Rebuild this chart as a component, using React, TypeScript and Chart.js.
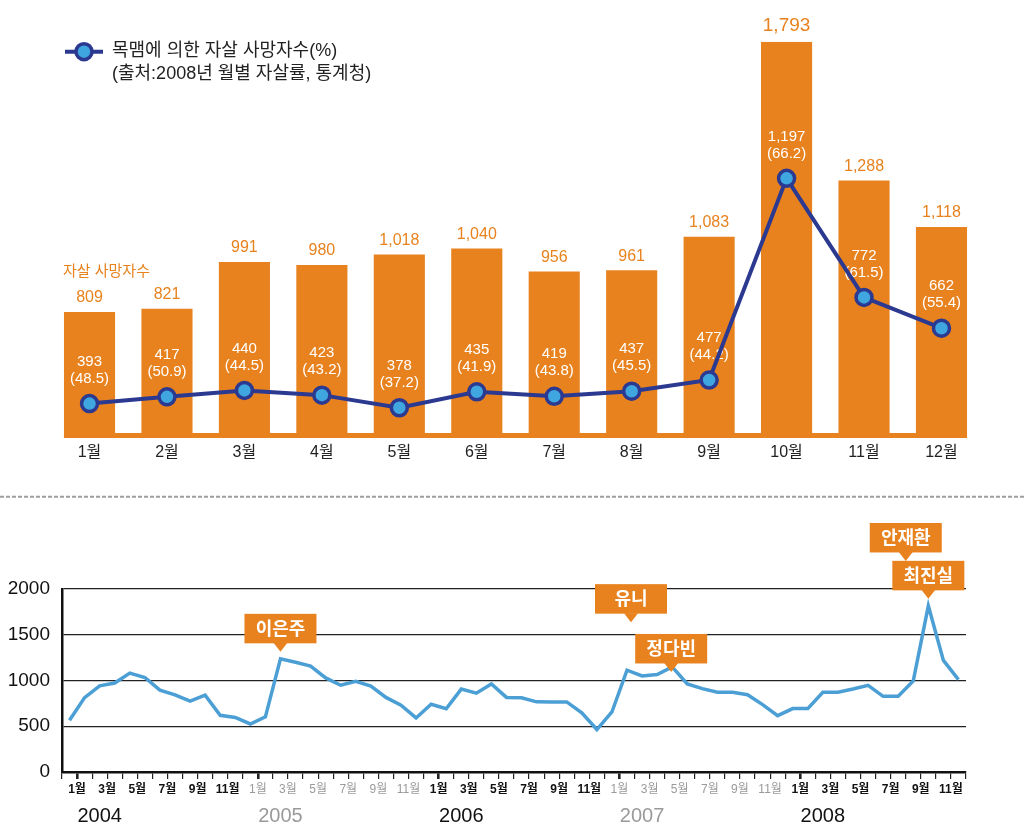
import React, { useEffect, useRef } from 'react';
import { Chart, registerables } from 'chart.js';

Chart.register(...registerables);

// ---------- DATA: top chart (2008 monthly) ----------
const months = ['1월', '2월', '3월', '4월', '5월', '6월', '7월', '8월', '9월', '10월', '11월', '12월'];
const suicideTotals = [809, 821, 991, 980, 1018, 1040, 956, 961, 1083, 1793, 1288, 1118];
const hangingCounts = [393, 417, 440, 423, 378, 435, 419, 437, 477, 1197, 772, 662];
const hangingShares = [48.5, 50.9, 44.5, 43.2, 37.2, 41.9, 43.8, 45.5, 44.2, 66.2, 61.5, 55.4];

const legendTitle = '목맴에 의한 자살 사망자수(%)';
const legendSource = '(출처:2008년 월별 자살률, 통계청)';
const barSeriesName = '자살 사망자수';

// ---------- DATA: bottom chart (2004-2008 monthly) ----------
const years = ['2004', '2005', '2006', '2007', '2008'];
const monthlySuicides = [
  566, 813, 942, 973, 1081, 1033, 895, 843, 775, 840, 620, 596,
  525, 603, 1237, 1199, 1157, 1028, 948, 990, 938, 815, 731, 591,
  740, 691, 906, 862, 962, 815, 811, 767, 766, 766, 646, 464,
  656, 1113, 1050, 1066, 1148, 962, 911, 871, 871, 845, 736, 616,
  693, 693, 871, 871, 907, 947, 827, 827, 995, 1816, 1220, 1009,
];
const yTicks = [0, 500, 1000, 1500, 2000];
const calloutNames = ['이은주', '유니', '정다빈', '안재환', '최진실'];
const calloutIndex = [14, 37, 40, 56, 57];

// ---------- STYLE ----------
const SANS = '"Liberation Sans", "Noto Sans CJK KR", sans-serif';
const ORANGE = '#E8821E';
const NAVY = '#2B3990';
const BLUE = '#3FA6E0';
const SKY = '#4B9FD5';
const yearColors = ['#111111', '#9a9a9a', '#111111', '#9a9a9a', '#111111'];
const calloutDx = [0, 4, -1, -7.5, 0];
const calloutLift = [7, 48, -5, 120, 7];

const fmt = (v: number) => v.toLocaleString('en-US');
const xLabels = years.flatMap(() => months);

export default function App() {
  const topRef = useRef<HTMLCanvasElement | null>(null);
  const botRef = useRef<HTMLCanvasElement | null>(null);

  useEffect(() => {
    const maxIdx = suicideTotals.indexOf(Math.max(...suicideTotals));

    const topPlugin = {
      id: 'topDecor',
      afterDatasetDraw(chart: any, args: any) {
        if (args.index !== 0) return;
        const ctx = chart.ctx;
        const bars = chart.getDatasetMeta(0).data;
        const pts = chart.getDatasetMeta(1).data;
        ctx.save();
        const first = bars[0];
        const last = bars[bars.length - 1];
        const x0 = first.x - first.width / 2;
        const x1 = last.x + last.width / 2;
        ctx.fillStyle = ORANGE;
        ctx.fillRect(x0, chart.chartArea.bottom - 5, x1 - x0, 5);
        ctx.textAlign = 'center';
        ctx.textBaseline = 'middle';
        bars.forEach((bar: any, i: number) => {
          const big = i === maxIdx;
          ctx.font = `${big ? 19 : 16}px ${SANS}`;
          ctx.fillStyle = ORANGE;
          ctx.fillText(fmt(suicideTotals[i]), bar.x, bar.y - (big ? 16 : 14));
        });
        ctx.font = `15px ${SANS}`;
        ctx.fillStyle = '#ffffff';
        pts.forEach((p: any, i: number) => {
          ctx.fillText(fmt(hangingCounts[i]), p.x, p.y - 42);
          ctx.fillText(`(${hangingShares[i].toFixed(1)})`, p.x, p.y - 25);
        });
        ctx.restore();
      },
      afterDraw(chart: any) {
        const ctx = chart.ctx;
        ctx.save();
        ctx.strokeStyle = NAVY;
        ctx.lineWidth = 4;
        ctx.beginPath();
        ctx.moveTo(65, 51.7);
        ctx.lineTo(103, 51.7);
        ctx.stroke();
        ctx.beginPath();
        ctx.arc(84, 51.7, 8, 0, Math.PI * 2);
        ctx.fillStyle = BLUE;
        ctx.fill();
        ctx.lineWidth = 3.5;
        ctx.stroke();
        ctx.fillStyle = '#222';
        ctx.font = `18px ${SANS}`;
        ctx.textAlign = 'left';
        ctx.textBaseline = 'middle';
        ctx.fillText(legendTitle, 112, 51);
        ctx.fillText(legendSource, 112, 74);
        ctx.fillStyle = ORANGE;
        ctx.font = `15px ${SANS}`;
        ctx.fillText(barSeriesName, 63, 271.7);
        ctx.strokeStyle = '#9e9e9e';
        ctx.lineWidth = 2;
        ctx.setLineDash([4, 2]);
        ctx.beginPath();
        ctx.moveTo(0, 496.7);
        ctx.lineTo(1024, 496.7);
        ctx.stroke();
        ctx.restore();
      },
    };

    const topChart = new Chart(topRef.current as HTMLCanvasElement, {
      type: 'bar',
      data: {
        labels: months,
        datasets: [
          {
            type: 'bar',
            data: suicideTotals,
            backgroundColor: ORANGE,
            barPercentage: 0.66,
            categoryPercentage: 1,
            order: 2,
            yAxisID: 'y',
          } as any,
          {
            type: 'line',
            data: hangingCounts,
            borderColor: NAVY,
            borderWidth: 4,
            pointRadius: 8,
            pointBackgroundColor: BLUE,
            pointBorderColor: NAVY,
            pointBorderWidth: 3.5,
            order: 1,
            yAxisID: 'y1',
            clip: false,
          } as any,
        ],
      },
      options: {
        animation: false,
        responsive: false,
        layout: { padding: { left: 50.8, right: 43.8, top: 41.7, bottom: 32 } },
        plugins: { legend: { display: false }, tooltip: { enabled: false } },
        scales: {
          x: {
            grid: { display: false, drawTicks: false },
            border: { display: false },
            ticks: { color: '#222', font: { size: 16, family: SANS }, padding: 5 },
            afterFit: (s: any) => { s.height = 30; },
          },
          y: { display: false, min: 350, max: 1793 },
          y1: { display: false, min: 270, max: 1685 },
        },
      } as any,
      plugins: [topPlugin],
    });

    const botPlugin = {
      id: 'botDecor',
      afterDatasetsDraw(chart: any) {
        const ctx = chart.ctx;
        const pts = chart.getDatasetMeta(0).data;
        ctx.save();
        ctx.textAlign = 'center';
        ctx.textBaseline = 'middle';
        calloutNames.forEach((name, k) => {
          const p = pts[calloutIndex[k]];
          const x = p.x + calloutDx[k];
          const tipY = p.y - calloutLift[k];
          const w = 72, h = 29.5, th = 8.5, hw = 7;
          ctx.fillStyle = ORANGE;
          ctx.fillRect(x - w / 2, tipY - th - h, w, h);
          ctx.beginPath();
          ctx.moveTo(x - hw, tipY - th - 0.5);
          ctx.lineTo(x + hw, tipY - th - 0.5);
          ctx.lineTo(x, tipY);
          ctx.closePath();
          ctx.fill();
          ctx.fillStyle = '#ffffff';
          ctx.font = `bold 18px ${SANS}`;
          ctx.fillText(name, x, tipY - th - h / 2 + 1);
        });
        ctx.restore();
      },
      afterDraw(chart: any) {
        const ctx = chart.ctx;
        const xs = chart.scales.x;
        ctx.save();
        ctx.textAlign = 'center';
        ctx.textBaseline = 'middle';
        ctx.font = `20px ${SANS}`;
        years.forEach((yr, k) => {
          ctx.fillStyle = yearColors[k];
          ctx.fillText(yr, xs.getPixelForValue(k * 12 + 2), 316.7);
        });
        ctx.restore();
      },
    };

    const botChart = new Chart(botRef.current as HTMLCanvasElement, {
      type: 'line',
      data: {
        labels: xLabels,
        datasets: [
          {
            data: monthlySuicides,
            borderColor: SKY,
            borderWidth: 3.5,
            pointRadius: 0,
            tension: 0,
            clip: false,
          } as any,
        ],
      },
      options: {
        animation: false,
        responsive: false,
        layout: { padding: { left: 0, right: 58, top: 89, bottom: 38 } },
        plugins: { legend: { display: false }, tooltip: { enabled: false } },
        scales: {
          x: {
            type: 'category',
            offset: true,
            grid: {
              offset: true,
              drawOnChartArea: false,
              drawTicks: true,
              tickLength: 7,
              color: '#222',
              lineWidth: (c: any) => (c.index % 12 === 1 ? 2.6 : 1.2),
            },
            border: { display: true, color: '#111', width: 2.5 },
            ticks: {
              autoSkip: false,
              maxRotation: 0,
              minRotation: 0,
              labelOffset: 7.5,
              padding: 3,
              callback: (_v: any, i: number) => (i % 2 === 0 ? xLabels[i] : ''),
              color: (c: any) => yearColors[Math.floor(c.index / 12)] || '#111',
              font: (c: any) => ({
                family: SANS,
                size: 12,
                weight: Math.floor(c.index / 12) % 2 === 0 ? 'bold' : 'normal',
              }),
            },
            afterFit: (s: any) => { s.height = 30; },
          },
          y: {
            min: yTicks[0],
            max: yTicks[yTicks.length - 1],
            afterBuildTicks: (s: any) => { s.ticks = yTicks.map((v) => ({ value: v })); },
            ticks: {
              color: '#111',
              font: { family: SANS, size: 19 },
              padding: 12,
              callback: (v: any) => String(v),
            },
            grid: { color: '#222', lineWidth: 1.3, drawTicks: false },
            border: { display: true, color: '#111', width: 2.5 },
            afterFit: (s: any) => { s.width = 62; },
          },
        },
      } as any,
      plugins: [botPlugin],
    });

    return () => {
      topChart.destroy();
      botChart.destroy();
    };
  }, []);

  return (
    <div style={{ position: 'absolute', left: 0, top: 0, width: 1024, height: 840, background: '#fff' }}>
      <canvas
        ref={topRef}
        width={1024}
        height={500}
        style={{ position: 'absolute', left: 0, top: 0, width: 1024, height: 500, display: 'block' }}
      />
      <canvas
        ref={botRef}
        width={1024}
        height={340}
        style={{ position: 'absolute', left: 0, top: 500, width: 1024, height: 340, display: 'block' }}
      />
    </div>
  );
}
